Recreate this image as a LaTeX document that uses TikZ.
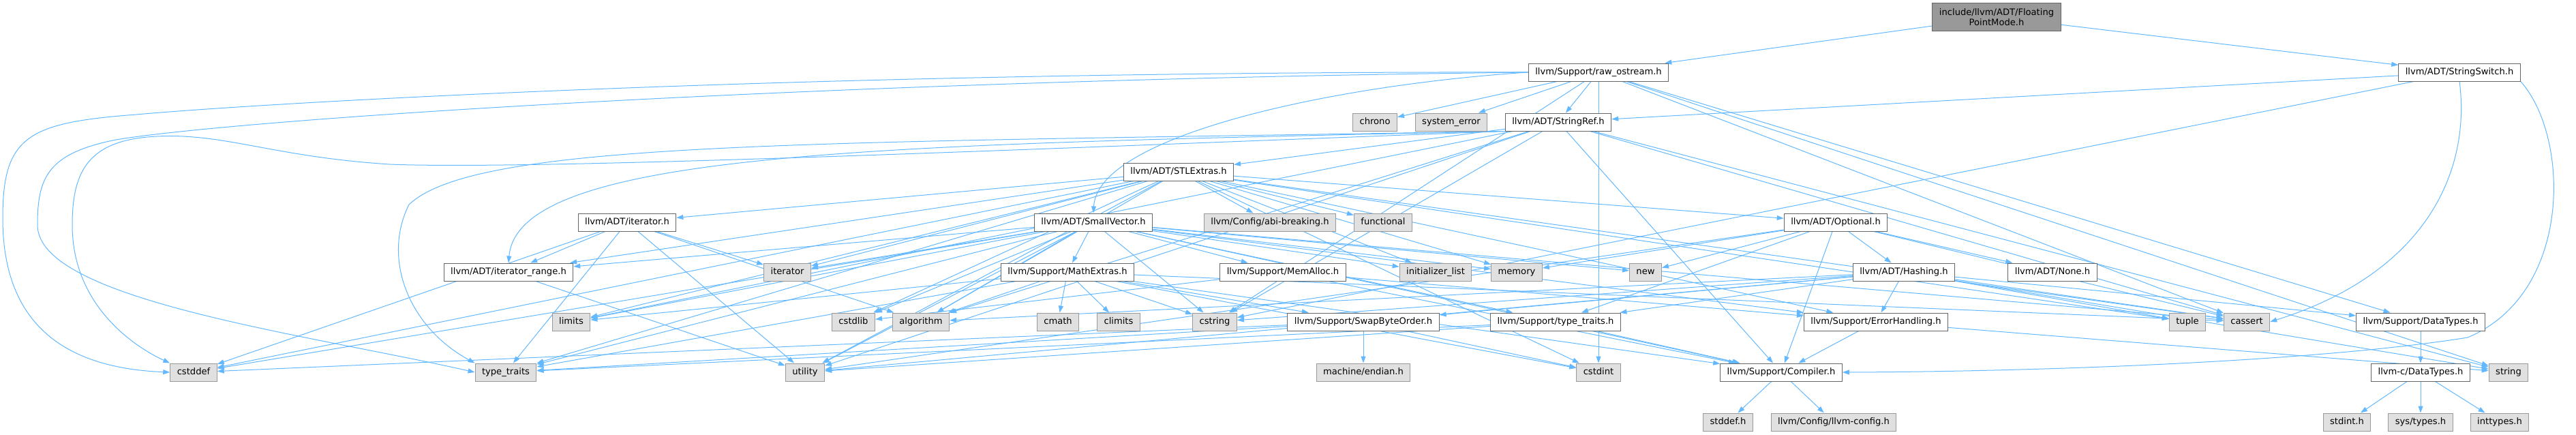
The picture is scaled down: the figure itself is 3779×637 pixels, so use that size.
\documentclass[tikz,border=0pt]{standalone}
\usepackage{fontspec}
\setmainfont{DejaVu Sans}
\usepackage{xcolor}
\usetikzlibrary{arrows.meta, backgrounds}

\definecolor{edgeblue}{HTML}{63B8FF}
\definecolor{rootfill}{HTML}{999999}
\definecolor{sysfill}{HTML}{E0E0E0}
\definecolor{darkline}{HTML}{666666}
\definecolor{greyline}{HTML}{999999}

\tikzset{
  filebox/.style={draw=darkline, fill=white, line width=1pt, inner xsep=10pt, inner ysep=0pt,
    minimum height=26pt, font=\fontsize{13.1}{14.6}\selectfont},
  hdr/.style={filebox, text height=9.6pt, text depth=2.6pt},
  syshdr/.style={hdr, draw=greyline, fill=sysfill},
  roothdr/.style={filebox, fill=rootfill, align=center, minimum height=41pt},
  dep/.style={draw=edgeblue, line width=1pt, -{Triangle[length=10pt,width=7pt]}},
}

\begin{document}
\begin{tikzpicture}[x=1pt, y=-1pt]
    \useasboundingbox (0,0) rectangle (3779,637);

    % Arquivo principal
    \node[roothdr] (fpm) at (2929,25) {include/llvm/ADT/Floating\\PointMode.h};

    % Nivel 1
    \node[hdr] (raw) at (2345,106) {llvm/Support/raw\_ostream.h};
    \node[hdr] (ssw) at (3608,106) {llvm/ADT/StringSwitch.h};

    % Nivel 2
    \node[syshdr] (chrono) at (2017,179) {chrono};
    \node[syshdr] (syserr) at (2129,179) {system\_error};
    \node[hdr] (sref) at (2286,179) {llvm/ADT/StringRef.h};

    % Nivel 3
    \node[hdr] (stl) at (1729,252) {llvm/ADT/STLExtras.h};

    % Nivel 4
    \node[hdr] (iterh) at (920,326) {llvm/ADT/iterator.h};
    \node[hdr] (svec) at (1604,326) {llvm/ADT/SmallVector.h};
    \node[syshdr] (abi) at (1863,326) {llvm/Config/abi-breaking.h};
    \node[syshdr] (functional) at (2029,326) {functional};
    \node[hdr] (optional) at (2693,326) {llvm/ADT/Optional.h};

    % Nivel 5
    \node[hdr] (irange) at (746,399) {llvm/ADT/iterator\_range.h};
    \node[syshdr] (iterator) at (1155,399) {iterator};
    \node[hdr] (mathx) at (1566,399) {llvm/Support/MathExtras.h};
    \node[hdr] (memalloc) at (1882,399) {llvm/Support/MemAlloc.h};
    \node[syshdr] (initlist) at (2106,399) {initializer\_list};
    \node[syshdr] (memory) at (2225,399) {memory};
    \node[syshdr] (new) at (2414,399) {new};
    \node[hdr] (hashing) at (2793,399) {llvm/ADT/Hashing.h};
    \node[hdr] (none) at (3011,399) {llvm/ADT/None.h};

    % Nivel 6
    \node[syshdr] (limits) at (838,472) {limits};
    \node[syshdr] (cstdlib) at (1252,472) {cstdlib};
    \node[syshdr] (algorithm) at (1351,472) {algorithm};
    \node[syshdr] (cmath) at (1552,472) {cmath};
    \node[syshdr] (climits) at (1641,472) {climits};
    \node[syshdr] (cstring) at (1782,472) {cstring};
    \node[hdr] (swap) at (2000,472) {llvm/Support/SwapByteOrder.h};
    \node[hdr] (stt) at (2282,472) {llvm/Support/type\_traits.h};
    \node[hdr] (errh) at (2752,472) {llvm/Support/ErrorHandling.h};
    \node[syshdr] (tuple) at (3209,472) {tuple};
    \node[syshdr] (cassert) at (3296,472) {cassert};
    \node[hdr] (dtypes) at (3551,472) {llvm/Support/DataTypes.h};

    % Nivel 7
    \node[syshdr] (cstddef) at (284,546) {cstddef};
    \node[syshdr] (ttraits) at (742,546) {type\_traits};
    \node[syshdr] (utility) at (1181,546) {utility};
    \node[syshdr] (endian) at (2000,546) {machine/endian.h};
    \node[syshdr] (cstdint) at (2345,546) {cstdint};
    \node[hdr] (compiler) at (2613,546) {llvm/Support/Compiler.h};
    \node[hdr] (cdtypes) at (3551,546) {llvm-c/DataTypes.h};
    \node[syshdr] (string) at (3680,546) {string};

    % Nivel 8
    \node[syshdr] (stddefh) at (2535,619) {stddef.h};
    \node[syshdr] (llvmcfg) at (2690,619) {llvm/Config/llvm-config.h};
    \node[syshdr] (stdinth) at (3443,619) {stdint.h};
    \node[syshdr] (systypes) at (3551,619) {sys/types.h};
    \node[syshdr] (inttypes) at (3667,619) {inttypes.h};

    \begin{scope}[on background layer]
    % FloatingPointMode.h
    \draw[dep] (fpm) -- (ssw);
    \draw[dep] (fpm) -- (raw);

    % raw_ostream.h
    \draw[dep] (raw.west) .. controls (1950,125) and (1610,200) .. (svec.north);
    \draw[dep] (raw) -- (sref);
    \draw[dep] (raw) -- (dtypes);
    \draw[dep] (raw) -- (cassert);
    \draw[dep] (raw) -- (chrono);
    \draw[dep] (raw.west) .. controls (1200,104) and (400,150) .. (200,168)
        .. controls (40,180) and (4,200) .. (4,320)
        .. controls (4,480) and (100,540) .. (cstddef.west);
    \draw[dep] (raw) -- (cstdint);
    \draw[dep] (raw) -- (cstring);
    \draw[dep] (raw) -- (string);
    \draw[dep] (raw) -- (syserr);
    \draw[dep] (raw.west) .. controls (1200,118) and (350,175) .. (170,205)
        .. controls (70,225) and (55,260) .. (55,330)
        .. controls (55,440) and (450,490) .. (ttraits.west);

    % StringSwitch.h
    \draw[dep] (ssw) -- (sref);
    \draw[dep] (ssw.south east) .. controls (3770,200) and (3775,430) .. (3620,495)
        .. controls (3400,530) and (3000,545) .. (compiler.east);
    \draw[dep] (ssw.south) .. controls (3625,250) and (3560,400) .. (cassert.east);
    \draw[dep] (ssw) -- (cstring);

    % StringRef.h
    \draw[dep] (sref) -- (stl);
    \draw[dep] (sref.south west) .. controls (1300,212) and (760,220) .. (irange.north);
    \draw[dep] (sref) -- (compiler);
    \draw[dep] (sref) -- (algorithm);
    \draw[dep] (sref) -- (cassert);
    \draw[dep] (sref.south west) .. controls (1600,215) and (800,250) .. (572,241)
        .. controls (400,230) and (330,195) .. (230,200)
        .. controls (130,205) and (106,250) .. (106,330)
        .. controls (106,450) and (200,510) .. (cstddef.north west);
    \draw[dep] (sref) -- (cstring);
    \draw[dep] (sref) -- (limits);
    \draw[dep] (sref) -- (string);
    \draw[dep] (sref.south west) .. controls (1200,210) and (700,205) .. (600,300)
        .. controls (560,380) and (600,480) .. (ttraits.north west);
    \draw[dep] (sref) -- (utility);

    % STLExtras.h
    \draw[dep] (stl) -- (optional);
    \draw[dep] (stl) -- (iterh);
    \draw[dep] (stl) -- (irange);
    \draw[dep] (stl) -- (abi);
    \draw[dep] (stl) -- (errh);
    \draw[dep] (stl) -- (algorithm);
    \draw[dep] (stl) -- (cassert);
    \draw[dep] (stl) -- (cstddef);
    \draw[dep] (stl) -- (cstdint);
    \draw[dep] (stl) -- (cstdlib);
    \draw[dep] (stl) -- (functional);
    \draw[dep] (stl) -- (initlist);
    \draw[dep] (stl) -- (iterator);
    \draw[dep] (stl) -- (limits);
    \draw[dep] (stl) -- (memory);
    \draw[dep] (stl) -- (tuple);
    \draw[dep] (stl) -- (ttraits);
    \draw[dep] (stl) -- (utility);

    % iterator.h
    \draw[dep] (iterh) -- (irange);
    \draw[dep] (iterh) -- (algorithm);
    \draw[dep] (iterh) -- (cstddef);
    \draw[dep] (iterh) -- (iterator);
    \draw[dep] (iterh) -- (ttraits);
    \draw[dep] (iterh) -- (utility);

    % iterator_range.h
    \draw[dep] (irange) -- (utility);

    % SmallVector.h
    \draw[dep] (svec) -- (irange);
    \draw[dep] (svec) -- (compiler);
    \draw[dep] (svec) -- (errh);
    \draw[dep] (svec) -- (mathx);
    \draw[dep] (svec) -- (memalloc);
    \draw[dep] (svec) -- (stt);
    \draw[dep] (svec) -- (algorithm);
    \draw[dep] (svec) -- (cassert);
    \draw[dep] (svec) -- (cstddef);
    \draw[dep] (svec) -- (cstdlib);
    \draw[dep] (svec) -- (cstring);
    \draw[dep] (svec) -- (initlist);
    \draw[dep] (svec) -- (iterator);
    \draw[dep] (svec) -- (limits);
    \draw[dep] (svec) -- (memory);
    \draw[dep] (svec) -- (new);
    \draw[dep] (svec) -- (ttraits);
    \draw[dep] (svec) -- (utility);

    % MathExtras.h
    \draw[dep] (mathx) -- (compiler);
    \draw[dep] (mathx) -- (swap);
    \draw[dep] (mathx) -- (algorithm);
    \draw[dep] (mathx) -- (cassert);
    \draw[dep] (mathx) -- (climits);
    \draw[dep] (mathx) -- (cmath);
    \draw[dep] (mathx) -- (cstdint);
    \draw[dep] (mathx) -- (cstring);
    \draw[dep] (mathx) -- (limits);
    \draw[dep] (mathx) -- (ttraits);

    % MemAlloc.h
    \draw[dep] (memalloc) -- (compiler);
    \draw[dep] (memalloc) -- (errh);
    \draw[dep] (memalloc) -- (cstdlib);

    % Optional.h
    \draw[dep] (optional) -- (hashing);
    \draw[dep] (optional) -- (none);
    \draw[dep] (optional) -- (compiler);
    \draw[dep] (optional) -- (stt);
    \draw[dep] (optional) -- (cassert);
    \draw[dep] (optional) -- (memory);
    \draw[dep] (optional) -- (new);
    \draw[dep] (optional) -- (utility);

    % Hashing.h
    \draw[dep] (hashing) -- (dtypes);
    \draw[dep] (hashing) -- (errh);
    \draw[dep] (hashing) -- (swap);
    \draw[dep] (hashing) -- (stt);
    \draw[dep] (hashing) -- (algorithm);
    \draw[dep] (hashing) -- (cassert);
    \draw[dep] (hashing) -- (cstring);
    \draw[dep] (hashing) -- (string);
    \draw[dep] (hashing) -- (tuple);
    \draw[dep] (hashing) -- (utility);

    % SwapByteOrder.h
    \draw[dep] (swap) -- (cstddef);
    \draw[dep] (swap) -- (cstdint);
    \draw[dep] (swap) -- (ttraits);
    \draw[dep] (swap) -- (endian);

    % type_traits.h, ErrorHandling.h
    \draw[dep] (stt) -- (compiler);
    \draw[dep] (stt) -- (ttraits);
    \draw[dep] (stt) -- (utility);
    \draw[dep] (errh) -- (compiler);
    \draw[dep] (errh) -- (string);

    % Compiler.h, DataTypes.h
    \draw[dep] (compiler) -- (llvmcfg);
    \draw[dep] (compiler) -- (stddefh);
    \draw[dep] (dtypes) -- (cdtypes);
    \draw[dep] (cdtypes) -- (inttypes);
    \draw[dep] (cdtypes) -- (stdinth);
    \draw[dep] (cdtypes) -- (systypes);
    \end{scope}
\end{tikzpicture}
\end{document}
